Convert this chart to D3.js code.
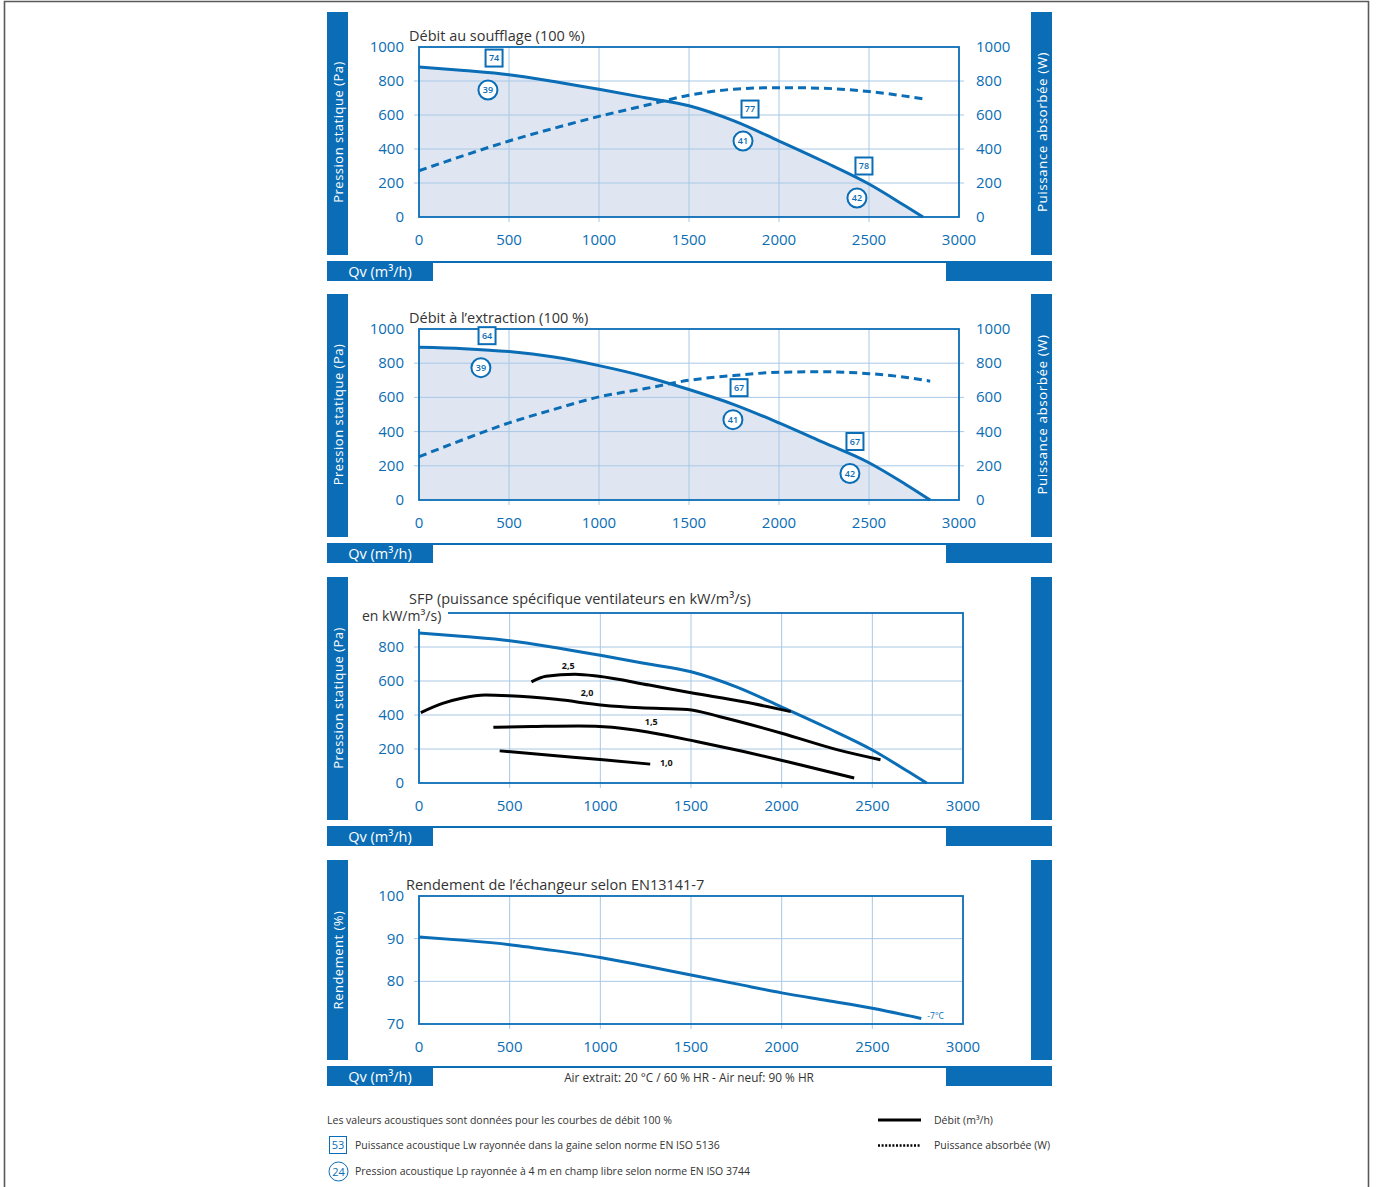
<!DOCTYPE html>
<html>
<head>
<meta charset="utf-8">
<script src="https://cdn.jsdelivr.net/npm/d3@7/dist/d3.min.js"></script>
<style>
  html, body { margin: 0; padding: 0; background: #fff; }
  svg { display: block; font-family: "Open Sans", "DejaVu Sans", sans-serif; }
</style>
</head>
<body>
<svg id="chart" width="1376" height="1187"></svg>
<script>
// ---- Data ----
const xTicks = [0, 500, 1000, 1500, 2000, 2500, 3000];
const pressureTicks = [0, 200, 400, 600, 800, 1000];
const sfpPressureTicks = [0, 200, 400, 600, 800];
const effTicks = [70, 80, 90, 100];

// Supply (soufflage) fan curve: static pressure (Pa) vs flow (m³/h)
const supplyQ = [0, 250, 500, 750, 1000, 1250, 1500, 1750, 2000, 2250, 2500, 2700, 2800];
const supplyP = [883, 862, 837, 797, 751, 703, 654, 565, 447, 325, 194, 66, 0];
// Supply absorbed power (W)
const supplyPowerQ = [0, 250, 500, 750, 1000, 1250, 1500, 1750, 2000, 2250, 2500, 2800];
const supplyPower = [272, 362, 447, 522, 592, 654, 716, 752, 761, 757, 738, 695];
// Supply acoustic values
const supplyLw = [{q: 417, p: 935, v: "74"}, {q: 1839, p: 635, v: "77"}, {q: 2472, p: 300, v: "78"}];
const supplyLp = [{q: 383, p: 747, v: "39"}, {q: 1800, p: 447, v: "41"}, {q: 2433, p: 112, v: "42"}];

// Extract (extraction) fan curve
const extractQ = [0, 250, 500, 750, 1000, 1250, 1500, 1750, 2000, 2250, 2500, 2700, 2840];
const extractP = [893, 885, 868, 836, 786, 724, 646, 558, 451, 335, 218, 94, 0];
const extractPowerQ = [0, 250, 500, 750, 1000, 1250, 1500, 1750, 2000, 2250, 2500, 2700, 2840];
const extractPower = [253, 355, 451, 530, 603, 650, 700, 728, 747, 750, 739, 718, 695];
const extractLw = [{q: 378, p: 961, v: "64"}, {q: 1778, p: 657, v: "67"}, {q: 2422, p: 342, v: "67"}];
const extractLp = [{q: 344, p: 774, v: "39"}, {q: 1744, p: 470, v: "41"}, {q: 2394, p: 155, v: "42"}];

// SFP iso-lines (kW/m³/s)
const sfp25Q = [620, 700, 860, 990, 1270, 1500, 1790, 2050];
const sfp25P = [595, 628, 640, 628, 576, 531, 478, 420];
const sfp20Q = [10, 130, 235, 365, 495, 755, 1015, 1220, 1480, 1660, 2000, 2310, 2545];
const sfp20P = [414, 468, 498, 517, 513, 492, 458, 443, 433, 390, 293, 195, 137];
const sfp15Q = [410, 620, 880, 1065, 1275, 1530, 1790, 2050, 2400];
const sfp15P = [328, 332, 336, 328, 297, 244, 185, 121, 29];
const sfp10Q = [445, 755, 1015, 1275];
const sfp10P = [189, 160, 137, 111];
const sfpLabels = [{q: 823, p: 689, v: "2,5"}, {q: 927, p: 527, v: "2,0"}, {q: 1281, p: 359, v: "1,5"}, {q: 1364, p: 119, v: "1,0"}];

// Heat exchanger efficiency (%)
const effQ = [0, 250, 500, 750, 1000, 1250, 1500, 1750, 2000, 2250, 2500, 2770];
const eff = [90.4, 89.6, 88.6, 87.2, 85.6, 83.6, 81.5, 79.4, 77.3, 75.5, 73.7, 71.3];

// ---- Styling ----
const BLUE = "#0a6db5";
const GRID = "#a8c8e6";
const FILL = "#dfe6f1";
const TEXT = "#333333";

const svg = d3.select("#chart");

// page frame
svg.append("path")
  .attr("d", "M4.5,1187 V1.5 H1368.5 V1187")
  .attr("fill", "none").attr("stroke", "#5a5a5a").attr("stroke-width", 1.6);

const zip = (a, b) => a.map((v, i) => [v, b[i]]);

function panel(o) {
  const g = svg.append("g");
  const top = o.top;
  const bh = o.barHeight;
  const x = d3.scaleLinear().domain([0, 3000]).range([419, o.xRight]);
  const y = d3.scaleLinear().domain(o.yDomain).range([o.yBottom, o.yTop]);

  // side bars
  g.append("rect").attr("x", 327).attr("y", top).attr("width", 21).attr("height", bh).attr("fill", BLUE);
  g.append("rect").attr("x", 1031).attr("y", top).attr("width", 21).attr("height", bh).attr("fill", BLUE);
  // bottom bar
  const bb = top + bh + 6;
  g.append("rect").attr("x", 327).attr("y", bb).attr("width", 106).attr("height", 20).attr("fill", BLUE);
  g.append("rect").attr("x", 946).attr("y", bb).attr("width", 106).attr("height", 20).attr("fill", BLUE);
  g.append("line").attr("x1", 433).attr("x2", 946).attr("y1", bb + 1).attr("y2", bb + 1)
    .attr("stroke", BLUE).attr("stroke-width", 2);
  g.append("text").attr("x", 380).attr("y", bb + 15.5).attr("text-anchor", "middle")
    .attr("fill", "#fff").attr("font-size", 14.5).text("Qv (m³/h)");

  const midY = (o.yTop + o.yBottom) / 2;
  g.append("text").attr("transform", `translate(343,${midY}) rotate(-90)`)
    .attr("text-anchor", "middle").attr("fill", "#fff").attr("font-size", 13)
    .attr("letter-spacing", 0.5).text(o.leftLabel);
  if (o.rightLabel) {
    g.append("text").attr("transform", `translate(1047,${midY}) rotate(-90)`)
      .attr("text-anchor", "middle").attr("fill", "#fff").attr("font-size", 13.5)
      .attr("letter-spacing", 0.5).text(o.rightLabel);
  }

  // fill under the fan curve
  if (o.fill) {
    const area = d3.area().x(d => x(d[0])).y0(y(o.yDomain[0])).y1(d => y(d[1])).curve(d3.curveMonotoneX);
    g.append("path").attr("d", area(o.fill)).attr("fill", FILL);
  }

  // grid lines (with small outside ticks)
  const rightExt = o.rightAxis ? 5 : 0;
  g.selectAll(".hg").data(o.yTicks.filter(t => t !== o.yDomain[0] && t !== o.yDomain[1])).join("line")
    .attr("x1", 414).attr("x2", o.xRight + rightExt)
    .attr("y1", d => y(d)).attr("y2", d => y(d))
    .attr("stroke", GRID).attr("stroke-width", 1);
  g.selectAll(".vg").data(xTicks.slice(1, -1)).join("line")
    .attr("x1", d => x(d)).attr("x2", d => x(d))
    .attr("y1", o.yTop).attr("y2", o.yBottom + 5)
    .attr("stroke", GRID).attr("stroke-width", 1);

  // plot border
  g.append("rect").attr("x", 419).attr("y", o.yTop).attr("width", o.xRight - 419).attr("height", o.yBottom - o.yTop)
    .attr("fill", "none").attr("stroke", BLUE).attr("stroke-width", 1.8);

  // axes labels
  const fs = 15;
  g.selectAll(".xl").data(xTicks).join("text")
    .attr("x", d => x(d)).attr("y", o.yBottom + 28).attr("text-anchor", "middle")
    .attr("fill", BLUE).attr("font-size", fs).text(d => d);
  g.selectAll(".yl").data(o.yTicks).join("text")
    .attr("x", 404).attr("y", d => y(d) + 5).attr("text-anchor", "end")
    .attr("fill", BLUE).attr("font-size", fs).text(d => d);
  if (o.rightAxis) {
    g.selectAll(".yr").data(o.yTicks).join("text")
      .attr("x", 976).attr("y", d => y(d) + 5).attr("text-anchor", "start")
      .attr("fill", BLUE).attr("font-size", fs).text(d => d);
  }

  // optional extra decoration drawn under the title
  if (o.beforeTitle) o.beforeTitle(g);

  // title
  g.append("text").attr("x", o.titleX).attr("y", o.titleY).attr("fill", TEXT).attr("font-size", 14.5).text(o.title);

  return {g, x, y};
}

function curve(ctx, pts, color, dash) {
  const line = d3.line().x(d => ctx.x(d[0])).y(d => ctx.y(d[1])).curve(d3.curveMonotoneX);
  ctx.g.append("path").attr("d", line(pts)).attr("fill", "none")
    .attr("stroke", color).attr("stroke-width", 3)
    .attr("stroke-dasharray", dash || null);
}

function markers(ctx, squares, circles) {
  squares.forEach(d => {
    const cx = ctx.x(d.q), cy = ctx.y(d.p);
    ctx.g.append("rect").attr("x", cx - 8.5).attr("y", cy - 8.5).attr("width", 17).attr("height", 17)
      .attr("fill", "#fff").attr("stroke", BLUE).attr("stroke-width", 2);
    ctx.g.append("text").attr("x", cx).attr("y", cy + 3.3).attr("text-anchor", "middle")
      .attr("fill", BLUE).attr("font-size", 9).attr("font-weight", 600).text(d.v);
  });
  circles.forEach(d => {
    const cx = ctx.x(d.q), cy = ctx.y(d.p);
    ctx.g.append("circle").attr("cx", cx).attr("cy", cy).attr("r", 9.5)
      .attr("fill", "#fff").attr("stroke", BLUE).attr("stroke-width", 2);
    ctx.g.append("text").attr("x", cx).attr("y", cy + 3.3).attr("text-anchor", "middle")
      .attr("fill", BLUE).attr("font-size", 9).attr("font-weight", 600).text(d.v);
  });
}

// ---- Panel 1: supply ----
const p1 = panel({
  top: 12, barHeight: 243, xRight: 959, yTop: 47, yBottom: 217, yDomain: [0, 1000], yTicks: pressureTicks,
  leftLabel: "Pression statique (Pa)", rightLabel: "Puissance absorbée (W)", rightAxis: true,
  title: "Débit au soufflage (100 %)", titleX: 409, titleY: 41, fill: zip(supplyQ, supplyP)
});
curve(p1, zip(supplyQ, supplyP), BLUE);
curve(p1, zip(supplyPowerQ, supplyPower), BLUE, "8,5");
markers(p1, supplyLw, supplyLp);

// ---- Panel 2: extract ----
const p2 = panel({
  top: 294, barHeight: 243, xRight: 959, yTop: 329, yBottom: 500, yDomain: [0, 1000], yTicks: pressureTicks,
  leftLabel: "Pression statique (Pa)", rightLabel: "Puissance absorbée (W)", rightAxis: true,
  title: "Débit à l’extraction (100 %)", titleX: 409, titleY: 323, fill: zip(extractQ, extractP)
});
curve(p2, zip(extractQ, extractP), BLUE);
curve(p2, zip(extractPowerQ, extractPower), BLUE, "8,5");
markers(p2, extractLw, extractLp);

// ---- Panel 3: SFP ----
const p3 = panel({
  top: 577, barHeight: 243, xRight: 963, yTop: 613, yBottom: 783, yDomain: [0, 1000], yTicks: sfpPressureTicks,
  leftLabel: "Pression statique (Pa)", rightLabel: null, rightAxis: false,
  title: "SFP (puissance spécifique ventilateurs en kW/m³/s)", titleX: 409, titleY: 604,
  beforeTitle: g => {
    g.append("rect").attr("x", 358).attr("y", 608).attr("width", 90).attr("height", 21).attr("fill", "#fff");
    g.append("text").attr("x", 362).attr("y", 621).attr("fill", TEXT).attr("font-size", 14).text("en kW/m³/s)");
  }
});
curve(p3, zip(supplyQ, supplyP), BLUE);
[[sfp25Q, sfp25P], [sfp20Q, sfp20P], [sfp15Q, sfp15P], [sfp10Q, sfp10P]]
  .forEach(([q, p]) => curve(p3, zip(q, p), "#000"));
p3.g.selectAll(".sl").data(sfpLabels).join("text")
  .attr("x", d => p3.x(d.q)).attr("y", d => p3.y(d.p) + 3).attr("text-anchor", "middle")
  .attr("fill", "#111").attr("font-size", 9).attr("font-weight", 700).text(d => d.v);

// ---- Panel 4: efficiency ----
const p4 = panel({
  top: 860, barHeight: 200, xRight: 963, yTop: 896, yBottom: 1024, yDomain: [70, 100], yTicks: effTicks,
  leftLabel: "Rendement (%)", rightLabel: null, rightAxis: false,
  title: "Rendement de l’échangeur selon EN13141-7", titleX: 406, titleY: 890
});
curve(p4, zip(effQ, eff), BLUE);
p4.g.append("text").attr("x", p4.x(effQ[effQ.length - 1]) + 6).attr("y", p4.y(eff[eff.length - 1]) + 1)
  .attr("fill", BLUE).attr("font-size", 8.5).text("-7°C");
svg.append("text").attr("x", 689).attr("y", 1082).attr("text-anchor", "middle")
  .attr("fill", TEXT).attr("font-size", 11.8).text("Air extrait: 20 °C / 60 % HR - Air neuf: 90 % HR");

// ---- Legend ----
const lg = svg.append("g").attr("font-size", 10.5).attr("fill", TEXT);
lg.append("text").attr("x", 327).attr("y", 1124).text("Les valeurs acoustiques sont données pour les courbes de débit 100 %");
lg.append("rect").attr("x", 329.5).attr("y", 1136.5).attr("width", 17).attr("height", 17)
  .attr("fill", "#fff").attr("stroke", BLUE).attr("stroke-width", 1);
lg.append("text").attr("x", 338).attr("y", 1149).attr("text-anchor", "middle").attr("fill", BLUE).attr("font-size", 11).text("53");
lg.append("text").attr("x", 355).attr("y", 1149).text("Puissance acoustique Lw rayonnée dans la gaine selon norme EN ISO 5136");
lg.append("circle").attr("cx", 338.5).attr("cy", 1171.5).attr("r", 9.5)
  .attr("fill", "#fff").attr("stroke", BLUE).attr("stroke-width", 1);
lg.append("text").attr("x", 338.5).attr("y", 1175.5).attr("text-anchor", "middle").attr("fill", BLUE).attr("font-size", 11).text("24");
lg.append("text").attr("x", 355).attr("y", 1175).text("Pression acoustique Lp rayonnée à 4 m en champ libre selon norme EN ISO 3744");
lg.append("line").attr("x1", 878).attr("x2", 921).attr("y1", 1120).attr("y2", 1120)
  .attr("stroke", "#000").attr("stroke-width", 3);
lg.append("text").attr("x", 934).attr("y", 1124).text("Débit (m³/h)");
lg.append("line").attr("x1", 878).attr("x2", 921).attr("y1", 1145.5).attr("y2", 1145.5)
  .attr("stroke", "#000").attr("stroke-width", 2.5).attr("stroke-dasharray", "2,1.6");
lg.append("text").attr("x", 934).attr("y", 1149).text("Puissance absorbée (W)");
</script>
</body>
</html>
